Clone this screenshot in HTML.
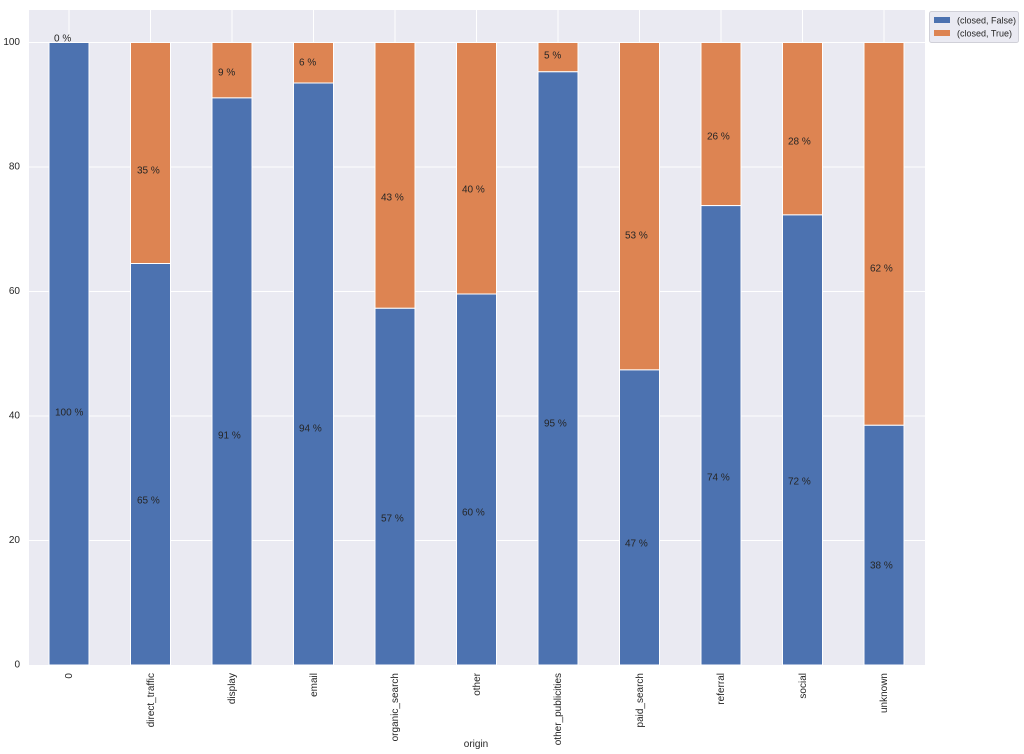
<!DOCTYPE html>
<html><head><meta charset="utf-8"><style>
html,body{margin:0;padding:0;background:#fff;}
svg{display:block;font-family:"Liberation Sans",sans-serif;}
</style></head><body>
<svg width="1024" height="754" xmlns="http://www.w3.org/2000/svg">
<rect x="29" y="10" width="896" height="655" fill="#eaeaf2"/>
<g stroke="#fff" stroke-width="1">
<line x1="29" x2="925" y1="42.5" y2="42.5"/>
<line x1="29" x2="925" y1="167" y2="167"/>
<line x1="29" x2="925" y1="291.5" y2="291.5"/>
<line x1="29" x2="925" y1="416" y2="416"/>
<line x1="29" x2="925" y1="540.5" y2="540.5"/>
<line x1="69" x2="69" y1="10" y2="665"/>
<line x1="150.5" x2="150.5" y1="10" y2="665"/>
<line x1="232" x2="232" y1="10" y2="665"/>
<line x1="313.5" x2="313.5" y1="10" y2="665"/>
<line x1="395" x2="395" y1="10" y2="665"/>
<line x1="476.5" x2="476.5" y1="10" y2="665"/>
<line x1="558" x2="558" y1="10" y2="665"/>
<line x1="639.5" x2="639.5" y1="10" y2="665"/>
<line x1="721" x2="721" y1="10" y2="665"/>
<line x1="802.5" x2="802.5" y1="10" y2="665"/>
<line x1="884" x2="884" y1="10" y2="665"/>
</g>
<g stroke="#fff" stroke-width="1">
<rect x="49" y="42.5" width="40" height="622.5" fill="#4c72b0"/>
<rect x="130.5" y="42.5" width="40" height="221" fill="#dd8452"/><rect x="130.5" y="263.5" width="40" height="401.5" fill="#4c72b0"/>
<rect x="212" y="42.5" width="40" height="55.4" fill="#dd8452"/><rect x="212" y="97.9" width="40" height="567.1" fill="#4c72b0"/>
<rect x="293.5" y="42.5" width="40" height="40.5" fill="#dd8452"/><rect x="293.5" y="83" width="40" height="582" fill="#4c72b0"/>
<rect x="375" y="42.5" width="40" height="265.8" fill="#dd8452"/><rect x="375" y="308.3" width="40" height="356.7" fill="#4c72b0"/>
<rect x="456.5" y="42.5" width="40" height="251.5" fill="#dd8452"/><rect x="456.5" y="294" width="40" height="371" fill="#4c72b0"/>
<rect x="538" y="42.5" width="40" height="29.3" fill="#dd8452"/><rect x="538" y="71.8" width="40" height="593.2" fill="#4c72b0"/>
<rect x="619.5" y="42.5" width="40" height="327.4" fill="#dd8452"/><rect x="619.5" y="369.9" width="40" height="295.1" fill="#4c72b0"/>
<rect x="701" y="42.5" width="40" height="163.1" fill="#dd8452"/><rect x="701" y="205.6" width="40" height="459.4" fill="#4c72b0"/>
<rect x="782.5" y="42.5" width="40" height="172.4" fill="#dd8452"/><rect x="782.5" y="214.9" width="40" height="450.1" fill="#4c72b0"/>
<rect x="864" y="42.5" width="40" height="382.8" fill="#dd8452"/><rect x="864" y="425.3" width="40" height="239.7" fill="#4c72b0"/>
</g>
<g font-size="10" fill="#262626" dominant-baseline="middle">
<text x="54" y="39">0 %</text><text x="55" y="413">100 %</text>
<text x="137" y="171">35 %</text><text x="137" y="501">65 %</text>
<text x="218" y="73">9 %</text><text x="218" y="436">91 %</text>
<text x="299" y="63">6 %</text><text x="299" y="429">94 %</text>
<text x="381" y="198">43 %</text><text x="381" y="519">57 %</text>
<text x="462" y="190">40 %</text><text x="462" y="513">60 %</text>
<text x="544" y="56">5 %</text><text x="544" y="424">95 %</text>
<text x="625" y="236">53 %</text><text x="625" y="544">47 %</text>
<text x="707" y="137">26 %</text><text x="707" y="478">74 %</text>
<text x="788" y="142">28 %</text><text x="788" y="482">72 %</text>
<text x="870" y="269">62 %</text><text x="870" y="566">38 %</text>
</g>
<g font-size="10" fill="#262626" text-anchor="end" dominant-baseline="middle">
<text x="20" y="42.5">100</text><text x="20" y="167">80</text><text x="20" y="291.5">60</text>
<text x="20" y="416">40</text><text x="20" y="540.5">20</text><text x="20" y="665">0</text>
</g>
<g font-size="10" fill="#262626" text-anchor="end">
<text transform="translate(72,673) rotate(-90)">0</text>
<text transform="translate(154,673) rotate(-90)">direct_traffic</text>
<text transform="translate(235,673) rotate(-90)">display</text>
<text transform="translate(317,673) rotate(-90)">email</text>
<text transform="translate(398,673) rotate(-90)">organic_search</text>
<text transform="translate(480,673) rotate(-90)">other</text>
<text transform="translate(561,673) rotate(-90)">other_publicities</text>
<text transform="translate(643,673) rotate(-90)">paid_search</text>
<text transform="translate(724,673) rotate(-90)">referral</text>
<text transform="translate(806,673) rotate(-90)">social</text>
<text transform="translate(887,673) rotate(-90)">unknown</text>
</g>
<text x="476" y="747" font-size="10" fill="#262626" text-anchor="middle">origin</text>
<rect x="929.5" y="11.5" width="89" height="31" rx="2" fill="#eaeaf2" stroke="#d0d0d8" stroke-width="1"/>
<rect x="934" y="17" width="16" height="6" fill="#4c72b0"/>
<rect x="934" y="30" width="16" height="6" fill="#dd8452"/>
<g font-size="9" fill="#262626" dominant-baseline="middle">
<text x="957" y="21">(closed, False)</text>
<text x="957" y="34">(closed, True)</text>
</g>
</svg>
</body></html>
